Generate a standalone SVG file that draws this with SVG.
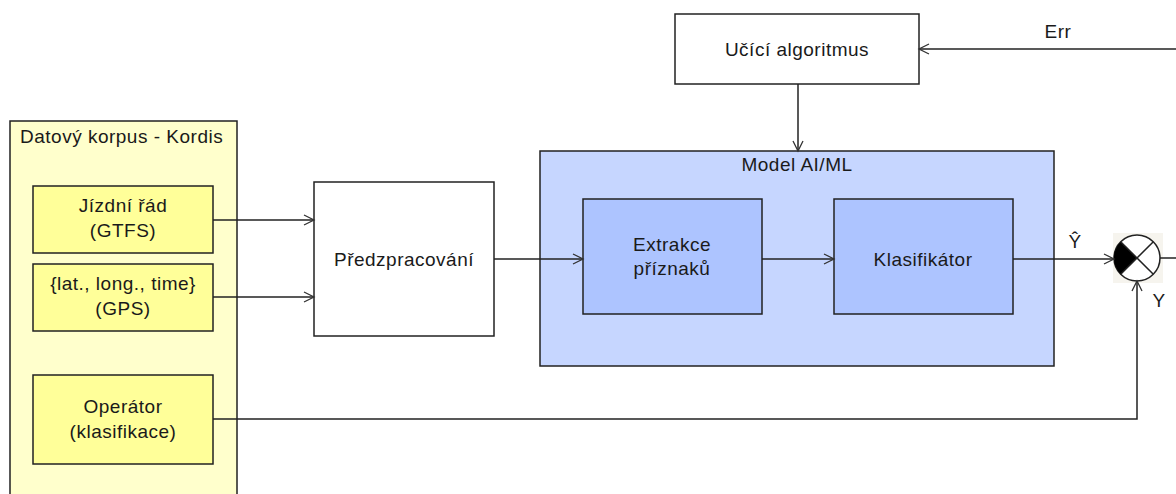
<svg xmlns="http://www.w3.org/2000/svg" width="1176" height="494" viewBox="0 0 1176 494">
<style>
text{font-family:"Liberation Sans",Arial,sans-serif;font-size:19px;letter-spacing:0.5px;fill:#1a1a1a;text-anchor:middle}
.box{stroke:#222;stroke-width:1.5}
.w{fill:#fff}
.yo{fill:#ffffcc}
.yi{fill:#ffff99}
.bo{fill:#c6d6ff}
.bi{fill:#adc4ff}
.c{fill:none;stroke:#222;stroke-width:1.5}
</style>
<defs>
<marker id="a" markerUnits="userSpaceOnUse" markerWidth="14" markerHeight="14" refX="11" refY="6" orient="auto">
<path d="M1,1 L11,6 L1,11" fill="none" stroke="#333" stroke-width="1.3"/>
</marker>
</defs>
<rect width="1176" height="494" fill="#fff"/>
<g id="korpus">
<rect class="box yo" x="10" y="121" width="227" height="380"/>
<text x="20" y="143" style="text-anchor:start">Datový korpus - Kordis</text>
</g>
<g id="jizdni">
<rect class="box yi" x="33" y="186" width="180" height="67"/>
<text x="123" y="212">Jízdní řád</text>
<text x="123" y="237">(GTFS)</text>
</g>
<g id="gps">
<rect class="box yi" x="33" y="264" width="180" height="67"/>
<text x="123" y="290">{lat., long., time}</text>
<text x="123" y="315">(GPS)</text>
</g>
<g id="operator">
<rect class="box yi" x="33" y="375" width="180" height="89"/>
<text x="123" y="413">Operátor</text>
<text x="123" y="438">(klasifikace)</text>
</g>
<g id="predzpracovani">
<rect class="box w" x="314" y="182" width="180" height="154"/>
<text x="404" y="266">Předzpracování</text>
</g>
<g id="ucici">
<rect class="box w" x="675" y="14" width="244" height="70"/>
<text x="797" y="56">Učící algoritmus</text>
</g>
<g id="model">
<rect class="box bo" x="540" y="151" width="514" height="215"/>
<text x="797" y="171">Model AI/ML</text>
</g>
<g id="extrakce">
<rect class="box bi" x="583" y="199" width="179" height="115"/>
<text x="672" y="251">Extrakce</text>
<text x="672" y="275">příznaků</text>
</g>
<g id="klasifikator">
<rect class="box bi" x="834" y="199" width="179" height="115"/>
<text x="923" y="266">Klasifikátor</text>
</g>
<g id="soucet">
<rect x="1113" y="233" width="50" height="50" fill="#f6f4ee"/>
<circle cx="1137" cy="258" r="23" fill="#fff" stroke="#222" stroke-width="1.5"/>
<path d="M1137,258 L1120.7,241.7 A23,23 0 0 0 1120.7,274.3 Z" fill="#000"/>
<path d="M1120.7,241.7 L1153.3,274.3 M1153.3,241.7 L1120.7,274.3" stroke="#222" stroke-width="1.5"/>
</g>
<g id="connectors">
<path class="c" d="M213,220 L314,220" marker-end="url(#a)"/>
<path class="c" d="M213,297 L314,297" marker-end="url(#a)"/>
<path class="c" d="M494,259 L583,259" marker-end="url(#a)"/>
<path class="c" d="M762,259 L834,259" marker-end="url(#a)"/>
<path class="c" d="M1013,259 L1114,259" marker-end="url(#a)"/>
<path class="c" d="M1160,258 L1176,258"/>
<path class="c" d="M798,84 L798,151" marker-end="url(#a)"/>
<path class="c" d="M1176,49 L919,49" marker-end="url(#a)"/>
<path class="c" d="M213,419 L1137,419 L1137,281" marker-end="url(#a)"/>
<text x="1058" y="38">Err</text>
<text x="1075" y="248">Ŷ</text>
<text x="1159" y="307">Y</text>
</g>
</svg>
